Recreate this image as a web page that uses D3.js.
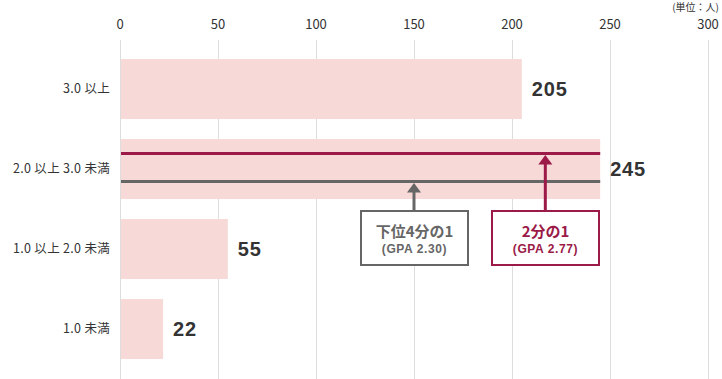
<!DOCTYPE html>
<html>
<head>
<meta charset="utf-8">
<script src="https://cdn.jsdelivr.net/npm/d3@7"></script>
<style>
  body { margin: 0; background: #fff; }
  svg { display: block; font-family: "Noto Sans CJK JP", "Noto Sans", sans-serif; }
</style>
</head>
<body>
<div class="container"></div>
<script>
const WIDTH = 722
const HEIGHT = 379

// data
const categories = ['3.0 以上', '2.0 以上 3.0 未満', '1.0 以上 2.0 未満', '1.0 未満']
const counts = [205, 245, 55, 22]
const xTicks = [0, 50, 100, 150, 200, 250, 300]
const markerNames = ['下位4分の1', '2分の1']
const markerGpa = ['(GPA 2.30)', '(GPA 2.77)']
const markerX = [150, 217]          // arrow position on the x scale
const markerColors = ['#666666', '#9b1a47']
const unitLabel = '(単位：人)'

const BAR_COLOR = '#f7d9d8'
const TEXT = '#333333'

const x = d3.scaleLinear().domain([0, 300]).range([120, 708])
const y = d3.scaleBand().domain(categories).range([49, 369]).paddingInner(0.25).paddingOuter(0.125)

const svg = d3.select('.container').append('svg')
    .attr('width', WIDTH)
    .attr('height', HEIGHT)
    .attr('viewBox', `0 0 ${WIDTH} ${HEIGHT}`)

// unit
svg.append('text')
    .attr('x', 719).attr('y', 11)
    .attr('text-anchor', 'end')
    .attr('font-size', 10)
    .attr('fill', TEXT)
    .text(unitLabel)

// grid + top axis labels
const grid = svg.append('g')
grid.selectAll('line')
    .data(xTicks)
    .join('line')
    .attr('x1', d => x(d) + 0.5).attr('x2', d => x(d) + 0.5)
    .attr('y1', 40).attr('y2', HEIGHT)
    .attr('stroke', '#dddddd')
    .attr('stroke-width', 1)

grid.selectAll('text')
    .data(xTicks)
    .join('text')
    .attr('x', d => x(d))
    .attr('y', 29)
    .attr('text-anchor', 'middle')
    .attr('font-size', 13)
    .attr('fill', TEXT)
    .text(d => d)

// bars
svg.append('g')
    .selectAll('rect')
    .data(counts)
    .join('rect')
    .attr('x', x(0) + 1)
    .attr('y', (d, i) => y(categories[i]))
    .attr('width', d => x(d) - x(0) - 1)
    .attr('height', y.bandwidth())
    .attr('fill', BAR_COLOR)

// category labels
svg.append('g')
    .selectAll('text')
    .data(categories)
    .join('text')
    .attr('x', 110)
    .attr('y', d => y(d) + y.bandwidth() / 2)
    .attr('dy', '0.35em')
    .attr('text-anchor', 'end')
    .attr('font-size', 12.5)
    .attr('letter-spacing', 0.3)
    .attr('fill', TEXT)
    .text(d => d)

// value labels
svg.append('g')
    .selectAll('text')
    .data(counts)
    .join('text')
    .attr('x', d => x(d) + 10)
    .attr('y', (d, i) => y(categories[i]) + y.bandwidth() / 2)
    .attr('dy', '0.36em')
    .attr('font-family', '"Liberation Sans", Arial, sans-serif')
    .attr('font-weight', 'bold')
    .attr('font-size', 20)
    .attr('letter-spacing', 0.8)
    .attr('fill', TEXT)
    .text(d => d)

// marker lines within the 2.0-3.0 bar
const band = categories[1]
const by = y(band)
const lineY = [by + 42.5, by + 14.5]   // gray (quartile), red (median)
svg.append('g')
    .selectAll('line')
    .data(markerColors)
    .join('line')
    .attr('x1', x(0) + 1).attr('x2', x(counts[1]))
    .attr('y1', (d, i) => lineY[i]).attr('y2', (d, i) => lineY[i])
    .attr('stroke', d => d)
    .attr('stroke-width', 3)

// arrows + boxes
const boxTop = 210
const boxH = 56
const boxLeft = [360, 491]
const boxW = 109

const markers = svg.append('g')
    .selectAll('g')
    .data(markerNames)
    .join('g')

markers.append('line')
    .attr('x1', (d, i) => x(markerX[i])).attr('x2', (d, i) => x(markerX[i]))
    .attr('y1', boxTop).attr('y2', (d, i) => lineY[i] + 9)
    .attr('stroke', (d, i) => markerColors[i])
    .attr('stroke-width', 3)

markers.append('path')
    .attr('d', (d, i) => {
        const cx = x(markerX[i]), ty = lineY[i] + 1.5
        return `M${cx},${ty}L${cx + 7},${ty + 9.5}L${cx - 7},${ty + 9.5}Z`
    })
    .attr('fill', (d, i) => markerColors[i])

markers.append('rect')
    .attr('x', (d, i) => boxLeft[i] + 1)
    .attr('y', boxTop + 1)
    .attr('width', boxW - 2)
    .attr('height', boxH - 2)
    .attr('fill', '#fff')
    .attr('stroke', (d, i) => markerColors[i])
    .attr('stroke-width', 2)

markers.append('text')
    .attr('x', (d, i) => boxLeft[i] + boxW / 2)
    .attr('y', boxTop + 27)
    .attr('text-anchor', 'middle')
    .attr('font-size', 15)
    .attr('font-weight', 'bold')
    .attr('fill', (d, i) => markerColors[i])
    .text(d => d)

markers.append('text')
    .attr('x', (d, i) => boxLeft[i] + boxW / 2)
    .attr('y', boxTop + 43)
    .attr('text-anchor', 'middle')
    .attr('font-family', '"Liberation Sans", Arial, sans-serif')
    .attr('font-size', 12)
    .attr('letter-spacing', 0.6)
    .attr('font-weight', 'bold')
    .attr('fill', (d, i) => markerColors[i])
    .text((d, i) => markerGpa[i])
</script>
</body>
</html>
